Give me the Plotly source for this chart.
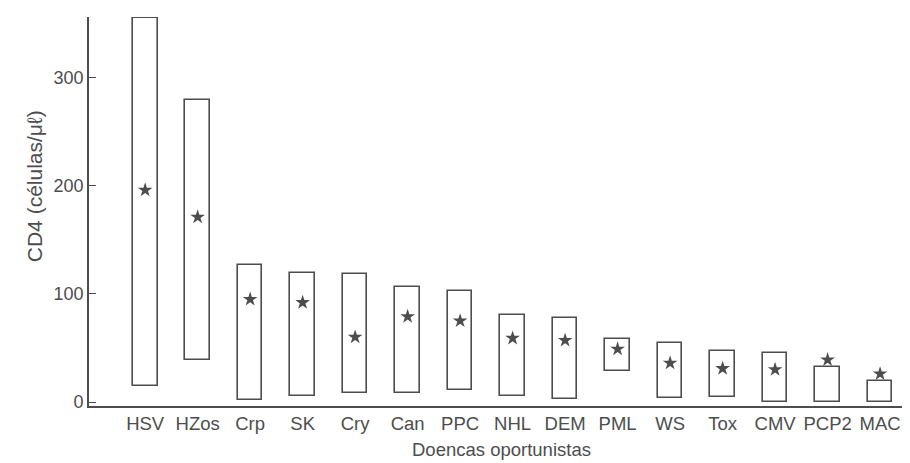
import plotly.graph_objects as go

categories = ["HSV", "HZos", "Crp", "SK", "Cry", "Can", "PPC", "NHL", "DEM",
              "PML", "WS", "Tox", "CMV", "PCP2", "MAC"]
low_values = [15, 39, 2, 6, 8, 8, 11, 6, 3, 29, 4, 5, 0, 0, 0]
high_values = [355, 279, 127, 119, 118, 106, 103, 80, 78, 58, 55, 47, 45, 32, 19]
median_values = [196, 171, 95, 92, 60, 79, 75, 59, 57, 49, 36, 31, 30, 39, 26]
y_ticks = [0, 100, 200, 300]
y_title = "CD4 (células/μℓ)"
x_title = "Doencas oportunistas"

positions = list(range(len(categories)))
ink = "#4d4d4d"
font_family = "Liberation Sans, Arial, Helvetica, sans-serif"

# the page body has an 8px margin, so the figure is sized/offset to compensate
fig_w, fig_h = 902, 455

fig = go.Figure()
fig.add_trace(go.Bar(
    x=positions,
    y=[h - l for h, l in zip(high_values, low_values)],
    base=low_values,
    width=0.47,
    marker=dict(color="white", line=dict(color=ink, width=1.6)),
    showlegend=False,
    hoverinfo="skip",
))
fig.add_trace(go.Scatter(
    x=positions,
    y=median_values,
    mode="markers",
    marker=dict(symbol="star", size=11, color=ink, line=dict(width=0)),
    showlegend=False,
))

fig.update_layout(
    width=fig_w, height=fig_h,
    margin=dict(l=81, r=0, t=9, b=57),
    paper_bgcolor="white",
    plot_bgcolor="white",
    font=dict(family=font_family, color=ink, size=17),
    bargap=0,
    xaxis=dict(
        range=[-1.07, 14.57],
        tickvals=positions,
        ticktext=categories,
        showgrid=False, zeroline=False,
        showline=True, linecolor=ink, linewidth=1.6,
        ticks="", tickfont=dict(size=18.5, color=ink),
        automargin=False,
    ),
    yaxis=dict(
        range=[-3.7, 356],
        tickvals=y_ticks,
        showgrid=False, zeroline=False,
        showline=True, linecolor=ink, linewidth=1.6,
        ticks="inside", ticklen=7, tickcolor=ink, tickwidth=1.4,
        tickfont=dict(size=18, color=ink),
        automargin=False,
    ),
    annotations=[
        dict(text=y_title, xref="paper", yref="paper", x=-0.067, y=0.565,
             xanchor="center", yanchor="middle", textangle=-90, showarrow=False,
             font=dict(size=21, color=ink)),
        dict(text=x_title, xref="paper", yref="paper", x=0.5026, y=-0.145,
             xanchor="center", yanchor="bottom", showarrow=False,
             font=dict(size=18.5, color=ink)),
    ],
)

fig.write_html("out.html")
